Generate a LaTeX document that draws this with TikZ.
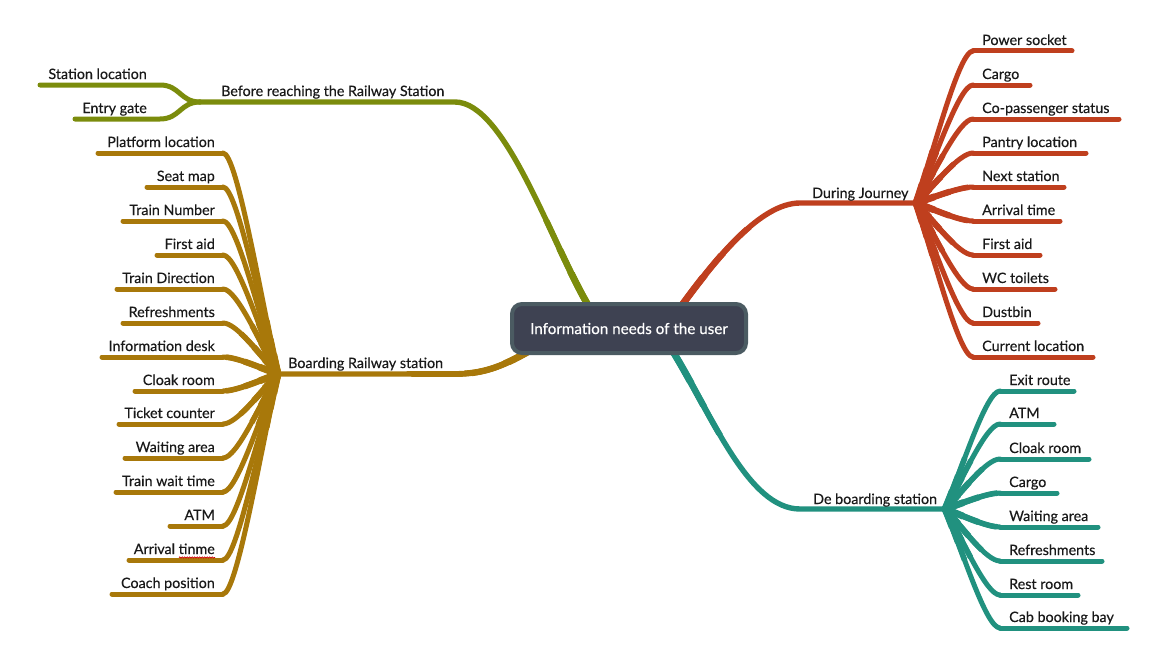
\documentclass[tikz,border=0pt]{standalone}
\usepackage{fontspec}
\setmainfont{Lato}[FakeBold=0.35]
\usetikzlibrary{calc,decorations.pathmorphing}
\definecolor{cgreen}{HTML}{7B8C0C}
\definecolor{cmust}{HTML}{A8780A}
\definecolor{cred}{HTML}{BF3F1E}
\definecolor{cteal}{HTML}{21917F}
\definecolor{cfill}{HTML}{3E4252}
\definecolor{cborder}{HTML}{4B5B62}
\tikzset{
  lbl/.style={inner sep=0pt, font=\fontsize{14.3}{16}\selectfont, text=black!90},
  mainline/.style={line width=5.4pt, line cap=round, line join=round},
  leafline/.style={line width=5pt, line cap=round, line join=round},
  rootbox/.style={draw=cborder, line width=4pt, fill=cfill, rounded corners=10pt,
    minimum width=234pt, minimum height=49pt, text=white,
    font=\fontsize{15.2}{17}\selectfont, inner sep=0pt}
}
\def\greenlist{g1l/Station location/40/85, g2l/Entry gate/75/119}
\def\mustlist{m1l/Platform location/98/153, m2l/Seat map/147/187, m3l/Train Number/123/221,
  m4l/First aid/157/255, m5l/Train Direction/117/289, m6l/Refreshments/123/323,
  m7l/Information desk/102/357, m8l/Cloak room/135/391, m9l/Ticket counter/119/424,
  m10l/Waiting area/125/458, m11l/Train wait time/116/492, m12l/ATM/170/526,
  m13l/Arrival tinme/129/560, m14l/Coach position/112/594}
\def\redlist{r1l/Power socket/1072/51, r2l/Cargo/1030/85, r3l/Co-passenger status/1119/119,
  r4l/Pantry location/1086/153, r5l/Next station/1064/187, r6l/Arrival time/1060/221,
  r7l/First aid/1040/255, r8l/WC toilets/1055/289, r9l/Dustbin/1038/323,
  r10l/Current location/1093/357}
\def\teallist{t1l/Exit route/1074/391, t2l/ATM/1054/424, t3l/Cloak room/1089/459,
  t4l/Cargo/1057/493, t5l/Waiting area/1098/527, t6l/Refreshments/1102/561,
  t7l/Rest room/1078/595, t8l/Cab booking bay/1127/628}
% curve drawing macros (#1 = line width)
\newcommand\mustcurves[1]{\foreach \nm/\lab/\xs/\yy in \mustlist{
  \draw[leafline,cmust,line width=#1] (\nm-b) .. controls (237,\yy) and (260.5,{374+0.35*(\yy-374)}) .. (jb);}}
\newcommand\redcurves[1]{\foreach \nm/\lab/\xe/\yy in \redlist{
  \draw[leafline,cred,line width=#1] (jr) .. controls (934,{203+0.35*(\yy-203)}) and (959,\yy) .. (\nm-b);}}
\newcommand\tealcurves[1]{\foreach \nm/\lab/\xe/\yy in \teallist{
  \draw[leafline,cteal,line width=#1] (jt) .. controls (962.5,{509+0.35*(\yy-509)}) and (986,\yy) .. (\nm-b);}}
\newcommand\taper[3]{% #1 centre, #2 curves macro
  \begin{scope}\clip (#1) circle (55pt); #2{5.6pt}\end{scope}
  \begin{scope}\clip (#1) circle (36pt); #2{6.2pt}\end{scope}
  \begin{scope}\clip (#1) circle (20pt); #2{6.9pt}\end{scope}}
\begin{document}
\begin{tikzpicture}[x=1pt,y=-1pt]
\useasboundingbox (0,0) rectangle (1175,661);
% junctions and main branch points
\coordinate (g0) at (588,305); \coordinate (g1) at (455,102); \coordinate (jg) at (200,102);
\coordinate (m0) at (540,345); \coordinate (m1) at (455,374); \coordinate (jb) at (278,374);
\coordinate (r0) at (682,305); \coordinate (r1) at (800,203); \coordinate (jr) at (916,203);
\coordinate (t0) at (672,350); \coordinate (t1) at (800,509); \coordinate (jt) at (945,509);

% main branches
\def\gpath{(g0) .. controls (550,240) and (505,102) .. (g1) -- (jg)}
\def\mpath{(m0) .. controls (510,362) and (490,374) .. (m1) -- (jb)}
\def\rpath{(r0) .. controls (715,260) and (760,203) .. (r1) -- (jr)}
\def\tpath{(t0) .. controls (712,415) and (748,509) .. (t1) -- (jt)}
\newcommand\mainall[1]{%
  \draw[mainline,cgreen,line width=#1] \gpath;
  \draw[mainline,cmust,line width=#1] \mpath;
  \draw[mainline,cred,line width=#1] \rpath;
  \draw[mainline,cteal,line width=#1] \tpath;}
\mainall{5.4pt}
\begin{scope}\clip (629,328) ellipse [x radius=240pt, y radius=115pt]; \mainall{5.9pt}\end{scope}
\begin{scope}\clip (629,328) ellipse [x radius=190pt, y radius=85pt]; \mainall{6.4pt}\end{scope}
\begin{scope}\clip (629,328) ellipse [x radius=150pt, y radius=60pt]; \mainall{6.9pt}\end{scope}

\node[lbl,anchor=base west] (bg) at (221,96) {Before reaching the Railway Station};
\node[lbl,anchor=base west] (bm) at (288,368) {Boarding Railway station};
\node[lbl,anchor=base west] (br) at (812,198) {During Journey};
\node[lbl,anchor=base west] (bt) at (813,504) {De boarding station};

% green leaves
\foreach \nm/\lab/\xs/\yy in \greenlist{
  \coordinate (\nm-s) at (\xs,\yy);
  \coordinate (\nm-b) at (160,\yy);
  \node[lbl,anchor=base east] (\nm) at (147,\yy-6) {\lab};
  \draw[leafline,cgreen] (\nm-s) -- (\nm-b) .. controls (180,\yy) and (180,102) .. (jg);
}

% mustard leaves
\foreach \nm/\lab/\xs/\yy in \mustlist{
  \coordinate (\nm-s) at (\xs,\yy);
  \coordinate (\nm-b) at (223,\yy);
  \node[lbl,anchor=base east] (\nm) at (215,\yy-6) {\lab};
  \draw[leafline,cmust] (\nm-s) -- (\nm-b);
}
\mustcurves{5pt}
\taper{jb}{\mustcurves}{}
\draw[red!80!black, line width=0.7pt, decorate, decoration={snake, amplitude=0.6pt, segment length=2.5pt}]
  ($(m13l.base east)+(-36,3.5)$) -- ($(m13l.base east)+(0,3.5)$);

% red leaves
\foreach \nm/\lab/\xe/\yy in \redlist{
  \coordinate (\nm-b) at (973,\yy);
  \coordinate (\nm-e) at (\xe,\yy);
  \node[lbl,anchor=base west] (\nm) at (982,\yy-6) {\lab};
  \draw[leafline,cred] (\nm-b) -- (\nm-e);
}
\redcurves{5pt}
\taper{jr}{\redcurves}{}

% teal leaves
\foreach \nm/\lab/\xe/\yy in \teallist{
  \coordinate (\nm-b) at (1000,\yy);
  \coordinate (\nm-e) at (\xe,\yy);
  \node[lbl,anchor=base west] (\nm) at (1009,\yy-6) {\lab};
  \draw[leafline,cteal] (\nm-b) -- (\nm-e);
}
\tealcurves{5pt}
\taper{jt}{\tealcurves}{}

% root
\node[rootbox] (root) at (629,328.5) {Information needs of the user};
\end{tikzpicture}
\end{document}
